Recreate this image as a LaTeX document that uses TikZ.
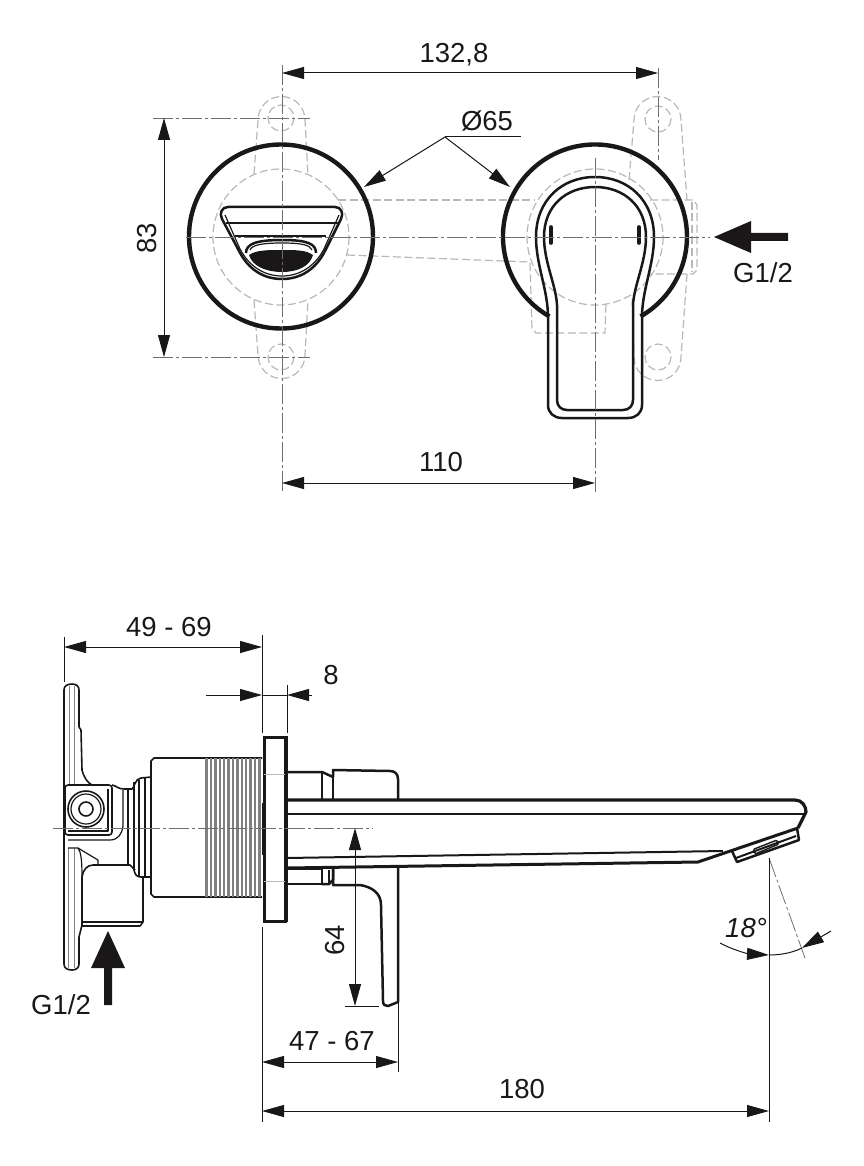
\documentclass[tikz,border=0pt]{standalone}
\usepackage{fontspec}
\setmainfont{Liberation Sans}
\usetikzlibrary{arrows.meta}
\definecolor{ink}{HTML}{1A1718}
\definecolor{ghost}{HTML}{B8B8B8}
\definecolor{axisc}{HTML}{6E6E6E}
\tikzset{
  x=1pt,y=-1pt,
  every node/.style={text=ink,font=\fontsize{27.5}{27.5}\selectfont,inner sep=0pt},
  heavy/.style={draw=ink,line width=4.4pt,line join=round},
  medium/.style={draw=ink,line width=2.5pt,line join=round},
  fine/.style={draw=ink,line width=1.2pt,line join=round},
  hidden/.style={draw=ghost,line width=1.2pt,dash pattern=on 8pt off 3.5pt},
  axisline/.style={draw=axisc,line width=0.8pt,dash pattern=on 20pt off 3pt on 3pt off 3pt},
  dimline/.style={draw=ink,line width=1pt},
  dimarrow/.style={dimline,{Triangle[length=22pt,width=12pt]}-{Triangle[length=22pt,width=12pt]}},
  tipend/.style={dimline,-{Triangle[length=22pt,width=12pt]}},
  bigfill/.style={fill=ink,draw=none},
}
\begin{document}
\begin{tikzpicture}
\useasboundingbox (0,0) rectangle (863,1166);
% ---------- top view: hidden wall box ----------
\draw[hidden] (281,118) circle (13);
\draw[hidden] (281,357) circle (13);
\draw[hidden] (658,119) circle (13);
\draw[hidden] (658,357) circle (13);
\draw[hidden] (281,237) circle (68);
\draw[hidden] (595,237) circle (68);
\draw[hidden] (254,174) -- (258,120) arc (180:360:23.5) -- (308,175);
\draw[hidden] (254,300) -- (258,355) arc (180:0:23.5) -- (308,300);
\draw[hidden] (629,180) -- (634,120) arc (180:360:23.5) -- (687,200);
\draw[hidden] (338,200) -- (535,200);
\draw[hidden] (650,200) -- (693,200) -- (697,205) -- (697,270) -- (693,274) -- (650,274);
\draw[hidden] (692,202) -- (692,272);
\draw[hidden] (347,255) -- (530,262) -- (532,328) -- (536,333) -- (605,333) -- (606,303);
\draw[hidden] (687,274) -- (681,357) arc (0:180:23.5) -- (632,295);
% ---------- top view: left rosette with spout ----------
\draw[heavy] (281,236.5) circle (92);
\draw[medium] (228,207) -- (335,207) .. controls (341,207) and (344,213) .. (341,219)
  -- (326,249) .. controls (316,270) and (300,279) .. (282,279)
  .. controls (264,279) and (248,270) .. (238,249) -- (222,219)
  .. controls (219,213) and (222,207) .. (228,207) -- cycle;
\draw[fine] (225,215) -- (240,249) .. controls (250,268) and (266,276) .. (282,276)
  .. controls (298,276) and (314,268) .. (324,249) -- (339,215);
\draw[medium] (226,223) -- (338,223);
\draw[medium] (235,236) -- (326,236);
\draw[medium] (246,253) .. controls (246,244) and (256,240) .. (282,240)
  .. controls (308,240) and (316,244) .. (316,253);
\draw[fine] (250,250) .. controls (252,245) and (262,243) .. (282,243)
  .. controls (302,243) and (310,245) .. (312,250);
\fill[ink] (249,255) .. controls (256,250) and (268,250) .. (282,250)
  .. controls (296,250) and (306,250) .. (313,255)
  .. controls (310,266) and (298,272) .. (282,272)
  .. controls (266,272) and (252,266) .. (249,255) -- cycle;
% ---------- top view: right rosette with lever ----------
\draw[heavy] (549.4,316.4) arc (119.7:420.3:92);
\draw[medium] (548,405) -- (548,317) .. controls (548,290) and (536,265) .. (536,237)
  .. controls (536,200) and (562,177) .. (595,177)
  .. controls (628,177) and (654,200) .. (654,237)
  .. controls (654,265) and (642,290) .. (642,317) -- (642,405)
  .. controls (642,413) and (636,418) .. (628,418) -- (562,418)
  .. controls (554,418) and (548,413) .. (548,405) -- cycle;
\draw[medium] (557,400) -- (557,305) .. controls (556,285) and (544,262) .. (544,237)
  .. controls (544,206) and (566,187) .. (595,187)
  .. controls (624,187) and (646,206) .. (646,237)
  .. controls (646,262) and (634,285) .. (633,305) -- (633,400)
  .. controls (633,406) and (629,410) .. (623,410) -- (567,410)
  .. controls (561,410) and (557,406) .. (557,400) -- cycle;
\draw[draw=ink,line width=3.6pt,line cap=round] (551,227) -- (551,243);
\draw[draw=ink,line width=3.6pt,line cap=round] (639,227) -- (639,243);
% ---------- top view: axes ----------
\draw[axisline] (186,237) -- (710,237);
\draw[axisline] (282,65) -- (282,492);
\draw[axisline] (595,158) -- (595,492);
\draw[axisline] (658,68) -- (658,160);
\draw[axisline] (153,118) -- (310,118);
\draw[axisline] (153,357) -- (310,357);
% ---------- top view: dimensions ----------
\draw[dimarrow] (282,73) -- (658,73);
\node (t1328) at (454,55) {132,8};
\draw[dimarrow] (164,118) -- (164,357);
\node[rotate=90] (t83) at (147,238) {83};
\draw[dimarrow] (282,483) -- (595,483);
\node (t110) at (441,462) {110};
\node (t65) at (487,121) {Ø65};
\coordinate (lead) at (445,137);
\draw[dimline] (lead) -- (521,137);
\draw[tipend] (lead) -- (364,187);
\draw[tipend] (lead) -- (510,187);
\fill[bigfill] (714,237) -- (751,221) -- (751,233) -- (788,233) -- (788,241) -- (751,241) -- (751,253) -- cycle;
\node (tg1) at (763,273) {G1/2};
% ---------- side view: wall box ----------
\draw[fine,line width=1.6pt] (79,727) -- (79,690) .. controls (79,686) and (76,684) .. (72,684)
  .. controls (67,684) and (64,686) .. (64,690) -- (64,964) .. controls (64,968) and (67,970) .. (72,970)
  .. controls (76,970) and (79,968) .. (79,964) -- (79,937) -- (82,925) -- (82,877);
\draw[fine,line width=1.6pt] (79,727) -- (81,730) -- (82,770) .. controls (84,778) and (88,783) .. (92,785);
\draw[draw=ghost!70!black,line width=0.8pt] (69,686) -- (69,785) (74,686) -- (74,785) (68,848) -- (68,968) (74,848) -- (74,968);
\draw[fine,line width=1.6pt,rounded corners=3pt] (65,785) rectangle (112,835);
\draw[fine] (108,789) -- (108,831) -- (68,831);
\draw[fine,line width=1.6pt] (86,809) circle (18);
\draw[fine] (86,809) circle (15);
\draw[fine,line width=1.6pt] (86,809) circle (7);
\draw[fine,line width=1.6pt] (112,785) .. controls (117,786) and (118,789) .. (124,789) -- (132,789)
  .. controls (134,789) and (135,778) .. (141,778) -- (151,777);
\draw[fine] (123,790) -- (123,826) .. controls (122,834) and (118,840) .. (110,840) -- (68,840);
\draw[fine] (128,789) -- (128,865);
\draw[fine,line width=1.6pt] (134,782) -- (134,870) .. controls (135,875) and (137,877) .. (141,877) -- (151,877);
\draw[fine] (139,780) -- (139,876);
\draw[fine] (145,778) -- (145,877);
\draw[fine,line width=1.6pt] (82,877) .. controls (83,870) and (87,865) .. (93,865) -- (130,865) -- (135,870);
\draw[fine,line width=1.6pt] (143,877) -- (143,922) -- (140,926) -- (82,926);
\draw[fine] (82,922) -- (143,922);
\draw[fine] (68,848) -- (78,848) -- (98,860) -- (98,864);
\draw[fine] (78,848) .. controls (81,852) and (82,860) .. (82,877);
% big cylinder and thread
\draw[fine,line width=1.6pt] (262,758) -- (154,758) -- (151,761) -- (151,894) -- (154,897) -- (262,897);
\foreach \xx in {206.5,210.9,...,262}{
  \draw[draw=ink!55,line width=2.4pt] (\xx,758) -- (\xx,897);
}
% flange
\draw[draw=ink,line width=3pt] (287,737) -- (264,737) -- (264,921) -- (287,921);
\draw[draw=ink,line width=4pt] (286,736) -- (286,922);
\draw[draw=ink,line width=1.6pt] (262.5,803) -- (262.5,855);
\draw[draw=ghost,line width=0.9pt] (264,774) -- (285,774) (264,881) -- (285,881);
% ---------- side view: spout and lever ----------
\draw[medium] (287,772) -- (322,772) -- (333,777);
\draw[medium] (322,772) -- (322,800);
\draw[medium] (333,777) -- (333,770) -- (390,771) .. controls (395,771) and (398,774) .. (398,779) -- (398,800);
\draw[medium] (333,777) -- (333,800);
\draw[heavy,line width=3.2pt] (287,800) -- (795,800) .. controls (802,800) and (806,806) .. (806,812) -- (798,828);
\draw[medium,line width=2pt] (287,814) -- (805,814);
\draw[medium,line width=2pt] (287,858) -- (723,851);
\draw[heavy,line width=3pt] (287,868) -- (698,862) -- (798,828);
\draw[medium] (732,851) -- (737,862) -- (799,840) -- (797,828);
\draw[medium,line width=2pt] (736,858) -- (796,836);
\draw[fine,line width=1.4pt,rounded corners=1.5pt] (753,849.5) -- (777,840) -- (779,844) -- (755,854) -- cycle;
\draw[medium] (287,869) -- (322,869) -- (322,884) -- (287,884);
\draw[medium] (322,884) -- (329,884) -- (333,880) -- (333,868);
\draw[fine] (329,870) -- (329,884);
\draw[medium] (333,868) -- (333,885) -- (360,885) .. controls (372,887) and (381,893) .. (381,905)
  -- (383,1001) .. controls (383,1005) and (385,1006) .. (388,1006) -- (398,1002) -- (398,868);
% ---------- side view: axes ----------
\draw[axisline] (53,828) -- (373,828);
\draw[axisline] (769,858) -- (805,958);
% ---------- side view: dimensions ----------
\draw[dimline] (64,637) -- (64,682);
\draw[dimline] (262,635) -- (262,733);
\draw[dimline] (287,685) -- (287,733);
\draw[dimline] (262,927) -- (262,1122);
\draw[dimline] (398,1002) -- (398,1072);
\draw[dimline] (769,858) -- (769,1122);
\draw[dimline] (345,1006) -- (379,1006);
\draw[dimarrow] (64,647) -- (262,647);
\node (t4969) at (169,627) {49 - 69};
\draw[tipend] (206,695) -- (262,695);
\draw[dimline] (262,695) -- (287,695);
\draw[tipend] (312,695) -- (287,695);
\node (t8) at (331,675) {8};
\draw[dimarrow] (355,828) -- (355,1006);
\node[rotate=90] (t64) at (335,940) {64};
\draw[dimarrow] (262,1062) -- (398,1062);
\node (t4767) at (332,1041) {47 - 67};
\draw[dimarrow] (262,1111) -- (769,1111);
\node (t180) at (522,1089) {180};
\draw[tipend] (720,943) .. controls (735,951) and (750,954) .. (769,955);
\draw[dimline] (769,955) .. controls (780,955) and (792,953) .. (802,948);
\draw[tipend] (831,931) -- (802,948);
\node[font=\itshape\fontsize{27.5}{27.5}\selectfont] (t18) at (746,928) {18°};
\fill[bigfill] (108,931) -- (125,968) -- (112,968) -- (112,1005) -- (104,1005) -- (104,968) -- (91,968) -- cycle;
\node (tg2) at (61,1005) {G1/2};
\end{tikzpicture}
\end{document}
